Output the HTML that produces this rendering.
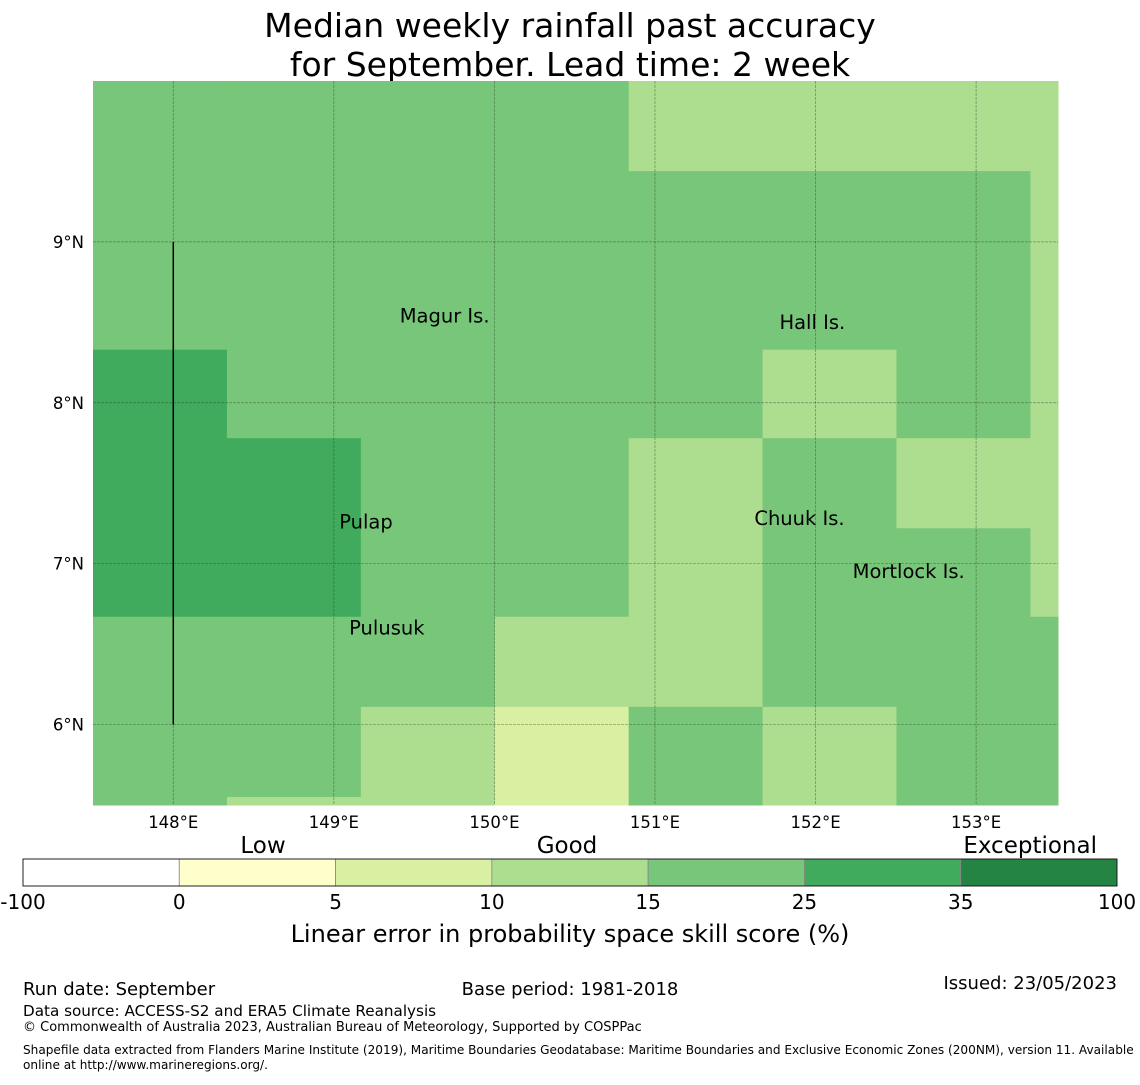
<!DOCTYPE html>
<html><head><meta charset="utf-8"><style>
body{margin:0;background:#fff;width:1140px;height:1080px;overflow:hidden;font-family:"Liberation Sans","DejaVu Sans",sans-serif}
svg text{font-family:"DejaVu Sans","Liberation Sans",sans-serif}
</style></head><body>
<svg id="chart" width="1140" height="1080" xmlns="http://www.w3.org/2000/svg">
<text x="570" y="37" font-size="33" text-anchor="middle">Median weekly rainfall past accuracy</text>
<text x="570" y="76" font-size="33" text-anchor="middle">for September. Lead time: 2 week</text>
<g id="map"></g>
<g id="cbar"></g>
<text x="570" y="942" font-size="24" text-anchor="middle">Linear error in probability space skill score (%)</text>
<text x="23" y="995" font-size="18">Run date: September</text>
<text x="570" y="995" font-size="18" text-anchor="middle">Base period: 1981-2018</text>
<text x="1117" y="989" font-size="18" text-anchor="end">Issued: 23/05/2023</text>
<text x="23" y="1016" font-size="15.2">Data source: ACCESS-S2 and ERA5 Climate Reanalysis</text>
<text x="23" y="1031" font-size="13">© Commonwealth of Australia 2023, Australian Bureau of Meteorology, Supported by COSPPac</text>
<text x="23" y="1054" font-size="12.1">Shapefile data extracted from Flanders Marine Institute (2019), Maritime Boundaries Geodatabase: Maritime Boundaries and Exclusive Economic Zones (200NM), version 11. Available</text>
<text x="23" y="1069" font-size="12.1">online at http://www.marineregions.org/.</text>
</svg>
<script>
const colors=["#ffffff","#ffffcc","#d9f0a3","#addd8e","#78c679","#41ab5d","#238443"];
const bounds=["-100","0","5","10","15","25","35","100"];
const bandLabels=["Low","Good","Exceptional"];
// grid cell category codes (index into colors), rows top->bottom, cols west->east
const cellRows=[
[4,4,4,4,3,3,3,3],
[4,4,4,4,4,4,4,3],
[4,4,4,4,4,4,4,3],
[5,4,4,4,4,3,4,3],
[5,5,4,4,3,4,3,3],
[5,5,4,4,3,4,4,3],
[4,4,4,3,3,4,4,4],
[4,4,3,2,4,3,4,4],
[4,3,3,2,4,3,4,4]];
const cellLon0=147.5, cellDLon=0.834;
const cellLatEdges=[10.0,9.44,8.89,8.33,7.78,7.22,6.67,6.11,5.55,5.5];
const lonTicks=[148,149,150,151,152,153];
const latTicks=[9,8,7,6];
const places=[["Magur Is.",149.69,8.5],["Hall Is.",151.98,8.46],["Pulap",149.2,7.22],["Chuuk Is.",151.9,7.24],["Mortlock Is.",152.58,6.91],["Pulusuk",149.33,6.56]];
const NS="http://www.w3.org/2000/svg";
const X0=93,X1=1058,Y0=81,Y1=805;
const lonMin=147.5,lonMax=153.51,latMin=5.5,latMax=10.0;
const xs=l=>X0+(l-lonMin)/(lonMax-lonMin)*(X1-X0);
const ys=l=>Y0+(latMax-l)/(latMax-latMin)*(Y1-Y0);
function el(t,a,p){const e=document.createElementNS(NS,t);for(const k in a)e.setAttribute(k,a[k]);p.appendChild(e);return e;}
const map=document.getElementById('map');
cellRows.forEach((row,r)=>row.forEach((c,j)=>{
 const xa=xs(cellLon0+j*cellDLon), xb=Math.min(X1,xs(cellLon0+(j+1)*cellDLon));
 const ya=ys(cellLatEdges[r]), yb=ys(cellLatEdges[r+1]);
 const e=el('rect',{x:xa,y:ya,width:xb-xa+0.5,height:yb-ya+0.5,fill:colors[c]},map);
 
 
}));
lonTicks.forEach(l=>{
 const x=xs(l);
 const g=el('line',{x1:x,x2:x,y1:Y0,y2:Y1,stroke:'#333','stroke-opacity':0.5,'stroke-width':0.7,'stroke-dasharray':'3,1'},map);
 
 
 const t=el('text',{x:x,y:828,'font-size':16.5,'text-anchor':'middle'},map);t.textContent=l+'°E';
 
 
});
latTicks.forEach(l=>{
 const y=ys(l);
 const g=el('line',{x1:X0,x2:X1,y1:y,y2:y,stroke:'#333','stroke-opacity':0.5,'stroke-width':0.7,'stroke-dasharray':'3,1'},map);
 
 
 const t=el('text',{x:84,y:y+6,'font-size':16.5,'text-anchor':'end'},map);t.textContent=l+'°N';
 
 
});
const bl=el('line',{x1:xs(148),x2:xs(148),y1:ys(9),y2:ys(6),stroke:'#000','stroke-width':1.5},map);


places.forEach(p=>{
 const t=el('text',{x:xs(p[1]),y:ys(p[2]),'font-size':19.5,'text-anchor':'middle'},map);t.textContent=p[0];
 
 
});
const cb=document.getElementById('cbar');
const CX0=23,CX1=1117,CY=859,CH=27,w=(CX1-CX0)/colors.length;
colors.forEach((c,i)=>{
 const r=el('rect',{x:CX0+i*w,y:CY,width:w,height:CH,fill:c,stroke:'#888','stroke-width':0.8},cb);
 
 
});
el('rect',{x:CX0,y:CY,width:CX1-CX0,height:CH,fill:'none',stroke:'#000','stroke-width':0.8},cb);
bounds.forEach((b,i)=>{
 const t=el('text',{x:CX0+i*w,y:909,'font-size':20,'text-anchor':'middle'},cb);t.textContent=b;
 
 
});
[[263,'middle'],[567,'middle'],[1097,'end']].forEach((p,i)=>{
 const t=el('text',{x:p[0],y:853,'font-size':23,'text-anchor':p[1]},cb);t.textContent=bandLabels[i];
 
 
});
</script>
</body></html>
